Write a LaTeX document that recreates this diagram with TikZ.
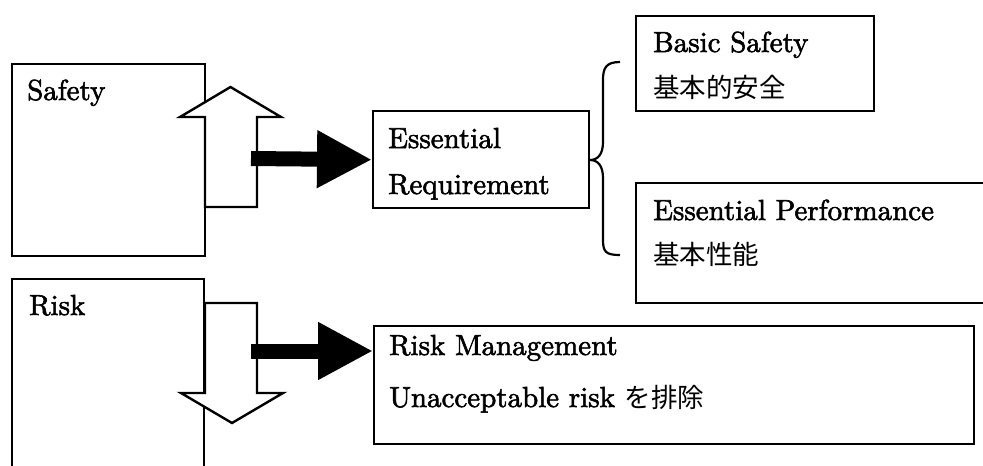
\documentclass[tikz,border=0pt]{standalone}
\usepackage{fontspec}
\setmainfont{lmroman10-regular.otf}[FakeBold=2]
\newfontfamily\cjk{Noto Sans CJK JP}
\usetikzlibrary{arrows.meta}
\tikzset{
  box/.style={draw, line width=2.4pt, rectangle, inner sep=0pt, anchor=north west, fill=none},
  outline/.style={draw, line width=2.4pt, line join=miter},
  hollowarrow/.style={draw, fill=white, line width=2.4pt, line join=miter},
  lbl/.style={anchor=base west, inner sep=0pt, font=\fontsize{29}{34}\selectfont},
  bigarrow/.style={line width=15pt, -{Triangle[length=55pt,width=54pt]}}
}
\newcommand{\jp}[1]{{\cjk\fontsize{26.5}{30}\selectfont #1}}
\begin{document}
\begin{tikzpicture}[x=1pt,y=-1pt]
\useasboundingbox[fill=white] (0,0) rectangle (983,466);
% boxes
\node[box, minimum width=193pt, minimum height=192pt] (safety) at (11,63) {};
\draw[outline] (12,466) -- (12,279) -- (204,279) -- (204,466);
\coordinate (riskbox) at (108,279);
\node[box, minimum width=216pt, minimum height=97pt] (ereq) at (372,110) {};
\node[box, minimum width=238pt, minimum height=95pt] (basic) at (635,15) {};
\draw[outline] (983,183) -- (636,183) -- (636,303) -- (983,303);
\coordinate (perf) at (800,183);
\node[box, minimum width=600pt, minimum height=118pt] (rm) at (373,325) {};
% hollow arrows
\draw[hollowarrow] (205,207) -- (205,117) -- (180,117) -- (230.5,87) -- (281,117) -- (257,117) -- (257,207) -- cycle;
\draw[hollowarrow] (205,303) -- (257,303) -- (257,393) -- (283,393) -- (232,423) -- (181,393) -- (205,393) -- cycle;
% black arrows
\coordinate (s1) at (251,158.5);
\coordinate (s2) at (251,351);
\draw[bigarrow] (s1) -- (ereq.west);
\draw[bigarrow] (s2) -- (rm.west |- s2);
% brace
\draw[line width=2.2pt] (620,62) .. controls (606,62) and (603,68) .. (603,80) -- (603,142)
  .. controls (603,154) and (598,160) .. (590,160)
  .. controls (598,160) and (603,166) .. (603,178) -- (603,240)
  .. controls (603,252) and (606,255) .. (620,255);
% labels
\node[lbl] (tsafety) at (27,100) {Safety};
\node[lbl] (trisk) at (29,315) {Risk};
\node[lbl] (tess) at (388,148) {Essential};
\node[lbl] (treq) at (388,194) {Requirement};
\node[lbl] (tbasic) at (653,52) {Basic Safety};
\node[lbl] (tbasicj) at (653,97) {\jp{基本的安全}};
\node[lbl] (tperf) at (653,220) {Essential Performance};
\node[lbl] (tperfj) at (653,264) {\jp{基本性能}};
\node[lbl] (trm) at (389,355) {Risk Management};
\node[lbl] (tun) at (389,407) {Unacceptable risk \jp{を排除}};
\end{tikzpicture}
\end{document}
